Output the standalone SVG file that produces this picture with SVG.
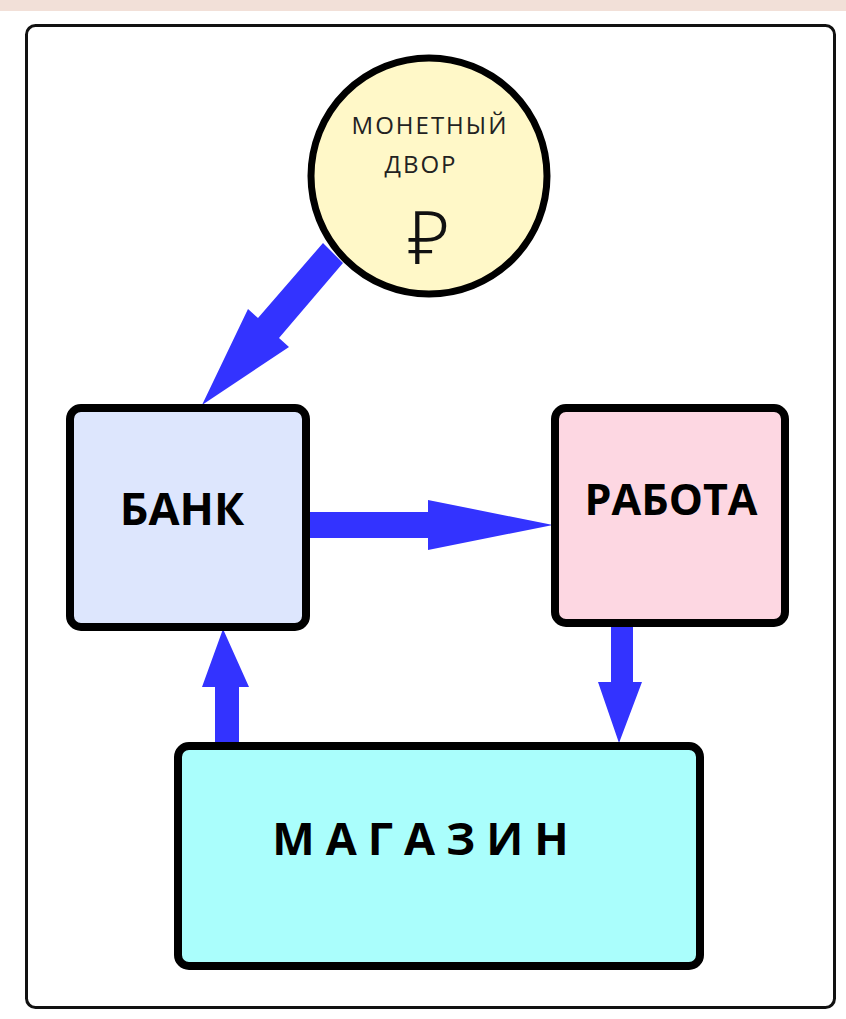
<svg xmlns="http://www.w3.org/2000/svg" width="846" height="1019" viewBox="0 0 846 1019">
<style>
.box{stroke:#000;stroke-width:8}
.lbl{font-family:"Open Sans","Noto Sans",sans-serif;font-weight:bold;fill:#000;text-anchor:middle}
.small{font-family:"Open Sans","Noto Sans",sans-serif;font-size:24px;letter-spacing:2px;fill:#222;text-anchor:middle}
.arr{fill:#3333ff}
</style>
<rect x="0" y="0" width="846" height="1019" fill="#ffffff"/>
<rect x="0" y="0" width="846" height="11" fill="#f2e0d8"/>
<rect id="frame" x="26.5" y="25.5" width="808" height="982" rx="9" fill="#ffffff" stroke="#111" stroke-width="3"/>
<g id="connectors">
  <polygon class="arr" points="323,243 343,263 279,338 289,347 202,405 248,309 258,318"/>
  <polygon class="arr" points="308,512 428,512 428,500 553,525 428,550 428,538 308,538"/>
  <polygon class="arr" points="215,744 239,744 239,687 249,687 223,629 202,687 215,687"/>
  <polygon class="arr" points="611,624 633,624 633,682 642,682 619,743 598,682 611,682"/>
</g>
<g id="mint">
  <circle cx="429" cy="176" r="118" fill="#fff8c8" stroke="#000" stroke-width="7"/>
  <text class="small" x="430" y="134">МОНЕТНЫЙ</text>
  <text class="small" x="421" y="173">ДВОР</text>
  <text x="429" y="264" font-family="'Noto Sans','DejaVu Sans',sans-serif" font-size="74" font-weight="300" fill="#111" text-anchor="middle">₽</text>
</g>
<g id="bank">
  <rect class="box" x="70" y="408" width="236" height="219" rx="11" fill="#dde6fd"/>
  <text class="lbl" x="182" y="525" font-size="45">БАНК</text>
</g>
<g id="work">
  <rect class="box" x="555" y="408" width="230" height="215" rx="11" fill="#fdd7e2"/>
  <text class="lbl" x="671" y="515" font-size="43">РАБОТА</text>
</g>
<g id="shop">
  <rect class="box" x="178" y="746" width="522" height="220" rx="11" fill="#aafefc"/>
  <text class="lbl" x="426" y="855" font-size="45" letter-spacing="11">МАГАЗИН</text>
</g>
</svg>
